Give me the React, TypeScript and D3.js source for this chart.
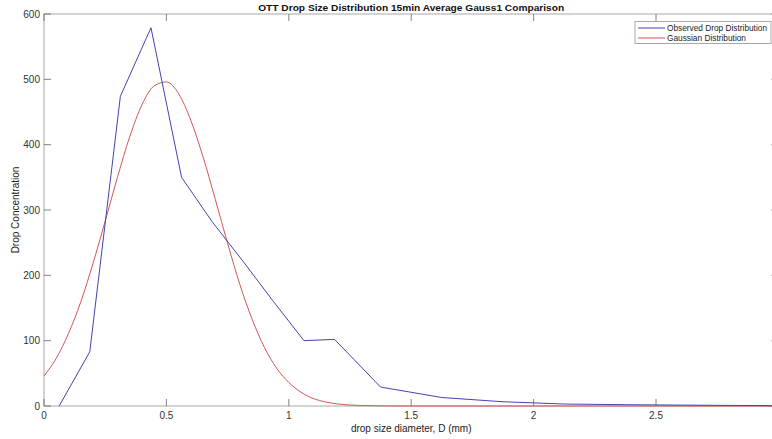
import React from "react";
import * as d3 from "d3";

const titleText = "OTT Drop Size Distribution 15min Average Gauss1 Comparison";
const xLabel = "drop size diameter, D (mm)";
const yLabel = "Drop Concentration";
const xTicks = [0, 0.5, 1, 1.5, 2, 2.5];
const yTicks = [0, 100, 200, 300, 400, 500, 600];
const legendLabels = ["Observed Drop Distribution", "Gaussian Distribution"];

const obsD = [0.062, 0.187, 0.312, 0.437, 0.562, 0.687, 0.812, 0.937, 1.062, 1.187, 1.375, 1.625, 1.875, 2.125, 2.375, 2.75, 3.25];
const obsV = [0, 83, 474, 579, 350, 282, 222, 160, 100, 102, 29, 13, 6.5, 3, 2, 1, 0];

const gaussD = [0, 0.05, 0.1, 0.15, 0.2, 0.25, 0.3, 0.35, 0.4, 0.45, 0.5, 0.55, 0.6, 0.65, 0.7, 0.75, 0.8, 0.85, 0.9, 0.95, 1.0, 1.05, 1.1, 1.15, 1.2, 1.25, 1.3, 1.35, 1.4, 1.5, 2.0, 2.5, 3.0];
const gaussV = [46, 73, 111, 159, 218, 283, 350, 412, 461, 490, 496, 478, 437, 381, 316, 249, 186, 133, 90, 58, 36, 21, 11.5, 6.1, 3.1, 1.5, 0.7, 0.3, 0.1, 0, 0, 0, 0];

const W = 772, H = 439;
const left = 44, top = 14, bottom = 406;
const x = d3.scaleLinear().domain([0, 3]).range([left, 778.4]);
const y = d3.scaleLinear().domain([0, 600]).range([bottom, top]);

const BLUE = "#4444b0";
const RED = "#d05656";
const AXIS = "#a8a8a8";
const TICK = "#666";
const FONT = "'Liberation Sans', Arial, Helvetica, sans-serif";

export default function App() {
  const obs = obsD.map((d, i) => [d, obsV[i]] as [number, number]);
  const gau = gaussD.map((d, i) => [d, gaussV[i]] as [number, number]);
  const line = d3.line<[number, number]>().x(d => x(d[0])).y(d => y(d[1]));
  const smooth = d3.line<[number, number]>().x(d => x(d[0])).y(d => y(d[1])).curve(d3.curveMonotoneX);
  const right = x(3);
  const legendWidths = [100, 79];
  return (
    <svg width={W} height={H} style={{ position: "absolute", left: 0, top: 0, background: "#fff" }} fontFamily={FONT}>
      <defs>
        <clipPath id="plot">
          <rect x={left} y={top - 2} width={right - left} height={bottom - top + 3} />
        </clipPath>
      </defs>
      <rect x={0} y={0} width={W} height={H} fill="#fff" />
      <rect x={left} y={top} width={right - left} height={bottom - top} fill="none" stroke={AXIS} strokeWidth={1} />
      {xTicks.map(t => (
        <g key={"x" + t}>
          <line x1={x(t)} x2={x(t)} y1={bottom} y2={bottom - 7} stroke={TICK} strokeWidth={0.8} />
          <line x1={x(t)} x2={x(t)} y1={top} y2={top + 7} stroke={TICK} strokeWidth={0.8} />
          <text x={x(t)} y={419} textAnchor="middle" fontSize={10} fill="#333">{String(t)}</text>
        </g>
      ))}
      {yTicks.map(t => (
        <g key={"y" + t}>
          <line x1={left} x2={left + 7} y1={y(t)} y2={y(t)} stroke={TICK} strokeWidth={0.8} />
          <line x1={right} x2={right - 7} y1={y(t)} y2={y(t)} stroke={TICK} strokeWidth={0.8} />
          <text x={40} y={y(t) + 3.5} textAnchor="end" fontSize={10} fill="#333">{String(t)}</text>
        </g>
      ))}
      <g clipPath="url(#plot)">
        <path d={smooth(gau) || ""} fill="none" stroke={RED} strokeWidth={1} />
        <path d={line(obs) || ""} fill="none" stroke={BLUE} strokeWidth={1} />
      </g>
      <text x={(left + right) / 2} y={10.5} textAnchor="middle" fontSize={9.6} fontWeight="bold" fill="#111" textLength={306} lengthAdjust="spacingAndGlyphs">{titleText}</text>
      <text x={(left + right) / 2} y={432} textAnchor="middle" fontSize={10} fill="#222">{xLabel}</text>
      <text transform={`translate(19,${(top + bottom) / 2}) rotate(-90)`} textAnchor="middle" fontSize={10} fill="#222">{yLabel}</text>
      <rect x={635} y={21.5} width={136} height={22} fill="#fff" stroke={AXIS} strokeWidth={1} />
      {legendLabels.map((lab, i) => (
        <g key={lab}>
          <line x1={638} x2={665} y1={28 + i * 10} y2={28 + i * 10} stroke={i === 0 ? BLUE : RED} strokeWidth={1} />
          <text x={667} y={31 + i * 10} fontSize={8.6} fill="#222" textLength={legendWidths[i]} lengthAdjust="spacingAndGlyphs">{lab}</text>
        </g>
      ))}
    </svg>
  );
}
